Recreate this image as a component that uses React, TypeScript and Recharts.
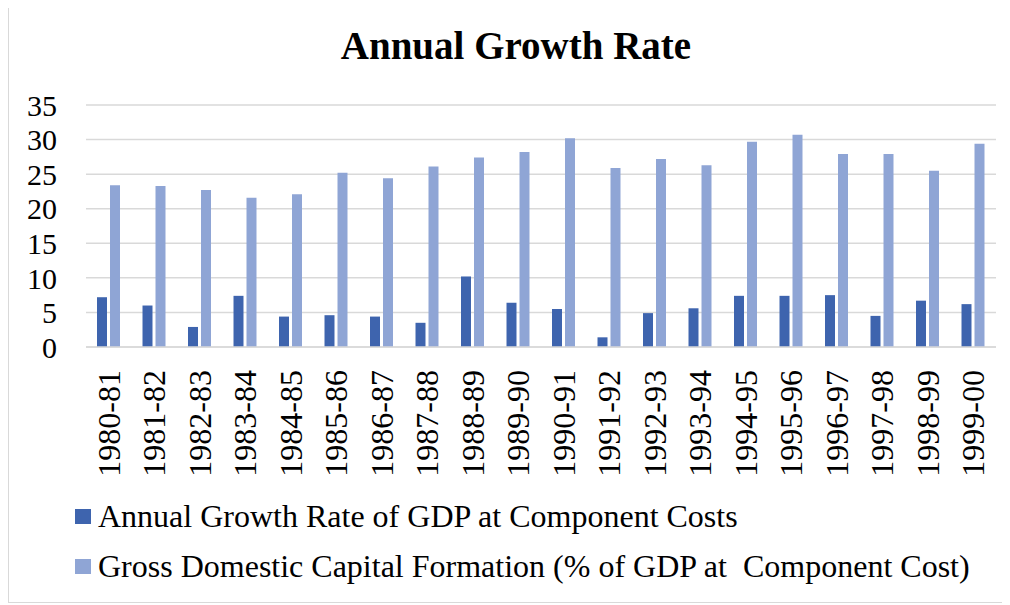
import React from 'react';
import { BarChart, Bar, XAxis, YAxis, CartesianGrid, Legend } from 'recharts';

const categories = ['1980-81','1981-82','1982-83','1983-84','1984-85','1985-86','1986-87','1987-88','1988-89','1989-90','1990-91','1991-92','1992-93','1993-94','1994-95','1995-96','1996-97','1997-98','1998-99','1999-00'];
const gdpGrowth = [7.2, 6.0, 2.9, 7.4, 4.4, 4.6, 4.4, 3.5, 10.2, 6.4, 5.5, 1.4, 4.9, 5.6, 7.4, 7.4, 7.5, 4.5, 6.7, 6.2];
const capitalFormation = [23.4, 23.3, 22.7, 21.6, 22.1, 25.2, 24.4, 26.1, 27.4, 28.2, 30.2, 25.9, 27.2, 26.3, 29.7, 30.7, 27.9, 27.9, 25.5, 29.4];
const yTicks = [0, 5, 10, 15, 20, 25, 30, 35];
const seriesNames = ['Annual Growth Rate of GDP at Component Costs', 'Gross Domestic Capital Formation (% of GDP at  Component Cost)'];
const seriesColors = ['#3e64ae', '#8fa5d5'];

const data = categories.map((c, i) => ({ year: c, gdp: gdpGrowth[i], gdcf: capitalFormation[i] }));

const FONT = '"Liberation Serif", "Times New Roman", serif';

const XTick = (props: any) => {
  const { x, y, payload } = props;
  return (
    <text x={x} y={y} transform={`rotate(-90 ${x} ${y})`} textAnchor="end" dy="0.34em" fontFamily={FONT} fontSize={32} fill="#000">
      {payload.value}
    </text>
  );
};

const LegendContent = () => (
  <div style={{ fontFamily: FONT, fontSize: 32, color: '#000' }}>
    {seriesNames.map((n, i) => (
      <div key={n} style={{ display: 'flex', alignItems: 'center', height: 50, whiteSpace: 'pre' }}>
        <span style={{ display: 'inline-block', width: 16, height: 15, background: seriesColors[i], marginRight: 7, flex: 'none' }} />
        <span>{n}</span>
      </div>
    ))}
  </div>
);

export default function App() {
  return (
    <div style={{ width: 998, height: 595, border: '1px solid #d9d9d9', marginTop: -2, position: 'relative', background: '#fff' }}>
      <BarChart width={998} height={595} data={data} margin={{ top: 98, right: 11, left: 0, bottom: 0 }} barSize={10} barGap={3}>
        <text x={507} y={52} textAnchor="middle" fontFamily={FONT} fontWeight="bold" fontSize={39} fill="#000">Annual Growth Rate</text>
        <CartesianGrid vertical={false} stroke="#d9d9d9" strokeWidth={1.5} />
        <XAxis dataKey="year" interval={0} height={155} tickLine={false} tickSize={0} tickMargin={23} axisLine={{ stroke: '#d9d9d9', strokeWidth: 1.5 }} tick={<XTick />} />
        <YAxis width={77} domain={[0, 35]} ticks={yTicks} interval={0} axisLine={false} tickLine={false} tickSize={0} tickMargin={29} tick={{ fontFamily: FONT, fontSize: 30, fill: '#000' }} />
        <Legend content={<LegendContent />} wrapperStyle={{ left: 66, top: 484, width: 930 }} />
        <Bar dataKey="gdp" name={seriesNames[0]} fill={seriesColors[0]} isAnimationActive={false} />
        <Bar dataKey="gdcf" name={seriesNames[1]} fill={seriesColors[1]} isAnimationActive={false} />
      </BarChart>
    </div>
  );
}
